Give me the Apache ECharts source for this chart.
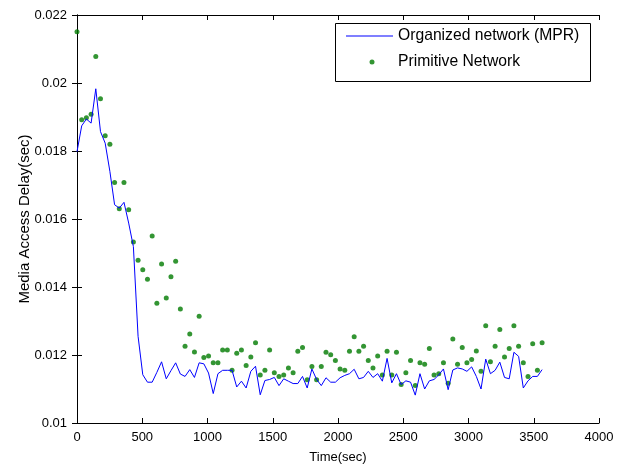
<!DOCTYPE html>
<html>
<head>
<meta charset="utf-8">
<script src="https://cdn.jsdelivr.net/npm/echarts@6/dist/echarts.min.js"></script>
<style>
html,body{margin:0;padding:0;background:#fff;}
#chart{width:618px;height:466px;}
</style>
</head>
<body>
<div id="chart"></div>
<script>
// Sampling times (sec)
var times = [0,36,72,108,144,180,216,252,288,324,360,396,432,468,504,540,576,612,648,684,
720,756,792,828,864,900,936,972,1008,1044,1080,1116,1152,1188,1224,1260,1296,1332,1368,1404,
1440,1476,1512,1548,1584,1620,1656,1692,1728,1764,1800,1836,1872,1908,1944,1980,2016,2052,2088,2124,
2160,2196,2232,2268,2304,2340,2376,2412,2448,2484,2520,2556,2592,2628,2664,2700,2736,2772,2808,2844,
2880,2916,2952,2988,3024,3060,3096,3132,3168,3204,3240,3276,3312,3348,3384,3420,3456,3492,3528,3564];

// Organized network (MPR) - line
var organized = [0.01798,0.01874,0.01894,0.01882,0.01983,0.01857,0.01823,0.0174,0.01642,0.01632,
0.01649,0.01588,0.01519,0.01255,0.01142,0.0112,0.0112,0.01149,0.0118,0.0113,
0.01154,0.01177,0.01144,0.01137,0.01157,0.01134,0.01177,0.01174,0.01147,0.010866,
0.01145,0.01155,0.01155,0.01155,0.01106,0.01123,0.01103,0.01152,0.01167,0.01083,
0.01125,0.01128,0.01134,0.0111,0.0113,0.01123,0.01116,0.01116,0.01137,0.01103,
0.01159,0.01128,0.0111,0.01133,0.0112,0.0112,0.01133,0.0114,0.01145,0.01158,
0.0113,0.01134,0.01152,0.01134,0.01145,0.01123,0.0119,0.01118,0.01145,0.01113,
0.01124,0.0112,0.01082,0.01145,0.011,0.01124,0.01128,0.011415,0.01159,0.01098,
0.01156,0.01162,0.01159,0.01152,0.01165,0.01137,0.011,0.01188,0.01145,0.01155,
0.01179,0.01134,0.0113,0.01208,0.01196,0.01103,0.01124,0.01137,0.01137,0.01157];

// Primitive Network - dots
var primitive = [0.02151,0.01892,0.01898,0.01908,0.02078,0.01954,0.01845,0.0182,0.01707,0.0163,
0.01707,0.01627,0.01532,0.01479,0.01451,0.01423,0.0155,0.01352,0.01468,0.01368,
0.0143,0.01476,0.01335,0.01226,0.01262,0.01209,0.01314,0.01193,0.01197,0.01177,
0.01177,0.01215,0.01215,0.01155,0.01205,0.01215,0.01169,0.01194,0.01236,0.011415,
0.01155,0.01215,0.01148,0.01137,0.011415,0.01162,0.01148,0.01211,0.01222,0.01127,
0.01166,0.01127,0.01166,0.01208,0.01201,0.01184,0.01159,0.01155,0.01211,0.01254,
0.01211,0.01226,0.01184,0.01162,0.01197,0.011415,0.01211,0.011415,0.01208,0.01113,
0.01148,0.01184,0.0111,0.01177,0.01173,0.01219,0.011415,0.01145,0.01177,0.01117,
0.01247,0.01173,0.01222,0.01177,0.01187,0.01212,0.01152,0.01286,0.0118,0.01226,
0.01275,0.01194,0.01219,0.01286,0.01226,0.01177,0.01137,0.01233,0.01155,0.01236];

var xTicks = {min: 0, max: 4000, interval: 500};
var yTicks = {min: 0.01, max: 0.022, interval: 0.002};

var names = ['Organized network (MPR)', 'Primitive Network'];

function pairs(xs, ys) { return xs.map(function (x, i) { return [x, ys[i]]; }); }

var FONT = 'Liberation Sans, Arial, sans-serif';
var axisLine = {show: true, lineStyle: {color: '#000', width: 1}};
var tick = {show: true, inside: true, length: 5, lineStyle: {color: '#000', width: 1}};

var chart = echarts.init(document.getElementById('chart'), null, {renderer: 'canvas'});
chart.setOption({
  animation: false,
  backgroundColor: '#fff',
  textStyle: {fontFamily: FONT},
  grid: {left: 77, right: 19, top: 15, bottom: 43, containLabel: false, outerBoundsMode: 'none'},
  xAxis: [{
    type: 'value', min: xTicks.min, max: xTicks.max, interval: xTicks.interval,
    name: 'Time(sec)', nameLocation: 'middle', nameGap: 28, nameMoveOverlap: false,
    nameTextStyle: {color: '#000', fontSize: 13, fontFamily: FONT},
    axisLine: axisLine, axisTick: tick, splitLine: {show: false},
    axisLabel: {color: '#000', fontSize: 13, margin: 8, fontFamily: FONT, formatter: function (v) { return String(v); }}
  }, {
    type: 'value', position: 'top', min: xTicks.min, max: xTicks.max, interval: xTicks.interval,
    axisLine: axisLine, axisTick: tick, splitLine: {show: false}, axisLabel: {show: false}
  }],
  yAxis: [{
    type: 'value', min: yTicks.min, max: yTicks.max, interval: yTicks.interval,
    name: 'Media Access Delay(sec)', nameLocation: 'middle', nameGap: 45, nameMoveOverlap: false,
    nameTextStyle: {color: '#000', fontSize: 15, fontFamily: FONT},
    axisLine: axisLine, axisTick: tick, splitLine: {show: false},
    axisLabel: {color: '#000', fontSize: 13, margin: 10, fontFamily: FONT,
      formatter: function (v) { return String(parseFloat(v.toFixed(4))); }}
  }, {
    type: 'value', position: 'right', min: yTicks.min, max: yTicks.max, interval: yTicks.interval,
    axisLine: axisLine, axisTick: tick, splitLine: {show: false}, axisLabel: {show: false}
  }],
  graphic: [{
    type: 'rect', left: 335, top: 23, z: 5,
    shape: {width: 255, height: 58},
    style: {fill: '#fff', stroke: '#000', lineWidth: 1}
  }],
  legend: [{
    z: 10, left: 346, top: 28, padding: 0, itemWidth: 47, itemHeight: 1,
    data: [{name: names[0], icon: 'rect'}],
    textStyle: {color: '#000', fontSize: 15.7, fontFamily: FONT, lineHeight: 16}
  }, {
    z: 10, left: 369.5, top: 54, padding: 0, itemWidth: 42, itemHeight: 5,
    data: [{name: names[1], icon: 'circle'}],
    textStyle: {color: '#000', fontSize: 15.7, fontFamily: FONT, lineHeight: 16}
  }],
  series: [{
    name: names[0], type: 'line', data: pairs(times, organized),
    symbol: 'none', lineStyle: {color: '#0000ff', width: 1}, itemStyle: {color: '#0000ff'}
  }, {
    name: names[1], type: 'scatter', data: pairs(times, primitive),
    symbol: 'circle', symbolSize: 5, itemStyle: {color: '#007a00'}
  }]
});
</script>
</body>
</html>
